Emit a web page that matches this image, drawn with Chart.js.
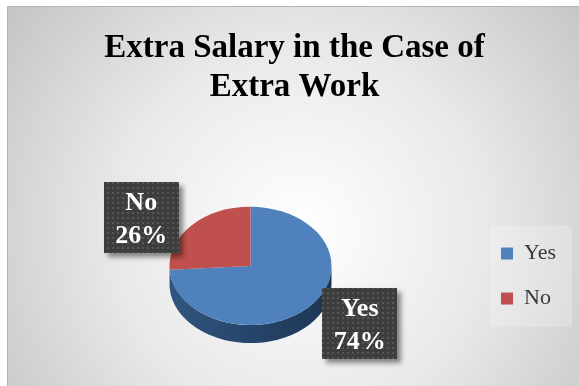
<!DOCTYPE html>
<html>
<head>
<meta charset="utf-8">
<script src="https://cdn.jsdelivr.net/npm/chart.js@4.4.1/dist/chart.umd.min.js"></script>
<style>
  html, body { margin: 0; padding: 0; background: #fff; }
  #wrap { width: 579px; height: 386px; }
</style>
</head>
<body>
<div id="wrap"><canvas id="salary"></canvas></div>
<script>
const titleLines = ['Extra Salary in the Case of', 'Extra Work'];
const answers = ['Yes', 'No'];
const shares = [74, 26];
const sliceColors = ['#4f81bd', '#c0504d'];
const sideColors = [['#30557f', '#1d3554'], ['#9a3f3c', '#7a2f2d']];

const TILT = 0.73;   // vertical squash of the pie
const DEPTH = 18;    // thickness of the pie edge

// grey panel with a soft radial fill and a thin frame line
const panel = {
  id: 'panel',
  beforeDraw(chart) {
    const ctx = chart.ctx;
    const w = chart.width, h = chart.height;
    ctx.save();
    ctx.fillStyle = '#fff';
    ctx.fillRect(0, 0, w, h);
    const g = ctx.createRadialGradient(300, 230, 0, 300, 230, 370);
    g.addColorStop(0, '#ffffff');
    g.addColorStop(0.5, '#e9e9e9');
    g.addColorStop(1, '#c4c4c4');
    ctx.fillStyle = g;
    ctx.fillRect(7, 6, w, h);
    ctx.strokeStyle = '#b4b4b4';
    ctx.lineWidth = 1;
    ctx.beginPath();
    ctx.moveTo(7.5, h);
    ctx.lineTo(7.5, 6.5);
    ctx.lineTo(w, 6.5);
    ctx.stroke();

    // light plate behind the legend entries
    const boxes = chart.legend && chart.legend.legendHitBoxes;
    if (boxes && boxes.length) {
      const top = Math.min(...boxes.map(b => b.top));
      const bottom = Math.max(...boxes.map(b => b.top + b.height));
      const left = Math.min(...boxes.map(b => b.left));
      ctx.fillStyle = 'rgba(255,255,255,0.22)';
      ctx.fillRect(left - 11, top - 17, w - left + 4, bottom - top + 34);
    }
    ctx.restore();
  }
};

// squash the pie into an ellipse and draw its lower edge
const tilt = {
  id: 'tilt',
  beforeDatasetsDraw(chart) {
    const arcs = chart.getDatasetMeta(0).data;
    if (!arcs.length) return;
    const ctx = chart.ctx;
    const { x, y, outerRadius } = arcs[0];
    const ry = outerRadius * TILT;
    ctx.save();
    arcs.forEach((arc, i) => {
      [[0, Math.PI], [2 * Math.PI, 3 * Math.PI]].forEach(([lo, hi]) => {
        const a1 = Math.max(arc.startAngle, lo);
        const a2 = Math.min(arc.endAngle, hi);
        if (a2 <= a1) return;
        const g = ctx.createLinearGradient(x - outerRadius, 0, x + outerRadius, 0);
        g.addColorStop(0, sideColors[i][0]);
        g.addColorStop(1, sideColors[i][1]);
        ctx.fillStyle = g;
        ctx.beginPath();
        ctx.ellipse(x, y, outerRadius, ry, 0, a1, a2);
        ctx.ellipse(x, y + DEPTH, outerRadius, ry, 0, a2, a1, true);
        ctx.closePath();
        ctx.fill();
      });
    });
    ctx.restore();

    ctx.save();
    ctx.translate(x, y);
    ctx.scale(1, TILT);
    ctx.translate(-x, -y);
  },
  afterDatasetsDraw(chart) {
    chart.ctx.restore();
  }
};

function dotPattern(ctx) {
  const c = document.createElement('canvas');
  c.width = 5;
  c.height = 5;
  const p = c.getContext('2d');
  p.fillStyle = '#3d3d3d';
  p.fillRect(0, 0, 5, 5);
  p.fillStyle = '#575757';
  p.fillRect(2, 2, 2, 2);
  return ctx.createPattern(c, 'repeat');
}

// dark callout boxes with category and percentage
const valueTags = {
  id: 'valueTags',
  afterDatasetsDraw(chart) {
    const arcs = chart.getDatasetMeta(0).data;
    const ctx = chart.ctx;
    const fill = dotPattern(ctx);
    arcs.forEach((arc, i) => {
      const mid = (arc.startAngle + arc.endAngle) / 2;
      const cx = arc.x + Math.cos(mid) * arc.outerRadius * 1.85;
      const cy = arc.y + DEPTH / 4 + Math.sin(mid) * arc.outerRadius * 0.95;
      const bw = 75, bh = 71;
      const bx = Math.round(cx - bw / 2), by = Math.round(cy - bh / 2);
      ctx.save();
      ctx.shadowColor = 'rgba(0,0,0,0.45)';
      ctx.shadowBlur = 5;
      ctx.shadowOffsetX = 4;
      ctx.shadowOffsetY = 4;
      ctx.fillStyle = '#3d3d3d';
      ctx.fillRect(bx, by, bw, bh);
      ctx.shadowColor = 'transparent';
      ctx.fillStyle = fill;
      ctx.fillRect(bx, by, bw, bh);
      ctx.fillStyle = '#ffffff';
      ctx.font = 'bold 26px "Liberation Serif"';
      ctx.textAlign = 'center';
      ctx.textBaseline = 'middle';
      ctx.fillText(chart.data.labels[i], cx, cy - 14);
      ctx.fillText(chart.data.datasets[0].data[i] + '%', cx, cy + 19);
      ctx.restore();
    });
  }
};

new Chart(document.getElementById('salary'), {
  type: 'pie',
  data: {
    labels: answers,
    datasets: [{
      data: shares,
      backgroundColor: sliceColors,
      borderWidth: 0,
      radius: 81
    }]
  },
  options: {
    responsive: true,
    maintainAspectRatio: false,
    animation: false,
    layout: { padding: { left: 23, right: 13, top: 0, bottom: 0 } },
    plugins: {
      title: {
        display: true,
        text: titleLines,
        color: '#000',
        font: { family: 'Liberation Serif', size: 33, weight: 'bold', lineHeight: 1.18 },
        padding: { top: 29, bottom: 39 }
      },
      legend: {
        position: 'right',
        fullSize: false,
        labels: {
          boxWidth: 12,
          boxHeight: 12,
          padding: 23,
          color: '#3a3a3a',
          font: { family: 'Liberation Serif', size: 22 }
        },
        title: { display: true, text: '', font: { size: 1 }, padding: { top: 19, bottom: 0 } }
      },
      tooltip: { enabled: false }
    }
  },
  plugins: [panel, tilt, valueTags]
});
</script>
</body>
</html>
